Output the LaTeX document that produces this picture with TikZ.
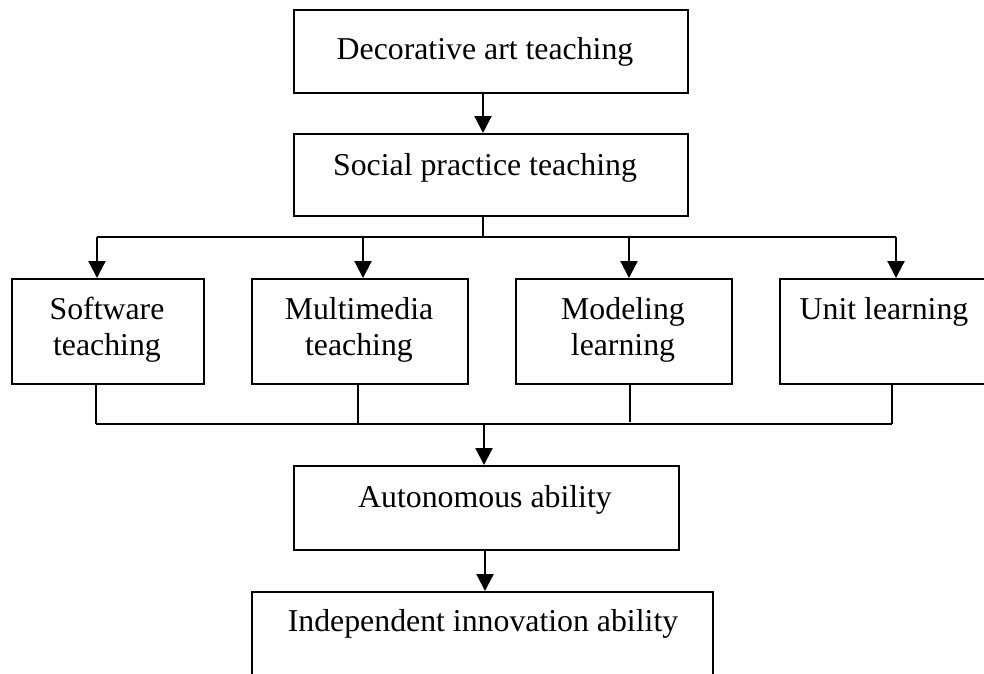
\documentclass[tikz,border=0pt]{standalone}
\usepackage{fontspec}
\setmainfont{Liberation Serif}
\usetikzlibrary{arrows.meta}
\tikzset{
  boxnode/.style={draw=black, line width=1.8pt, rectangle, inner sep=0pt, anchor=north west},
  txt/.style={anchor=base, inner sep=0pt, font=\fontsize{31.8}{36}\selectfont, align=center},
  arr/.style={line width=2.2pt, -{Triangle[length=17pt,width=17pt]}},
  conn/.style={line width=1.6pt},
  thin/.style={line width=1.3pt}
}
\begin{document}
\begin{tikzpicture}[x=1pt,y=-1pt]
\useasboundingbox (0,0) rectangle (984,673);
\clip (0,0) rectangle (984,673);
% boxes
\node[boxnode, minimum width=394pt, minimum height=83pt] (b1) at (293,9) {};
\node[boxnode, minimum width=394pt, minimum height=82pt] (b2) at (293,133) {};
\node[boxnode, minimum width=192pt, minimum height=105pt] (b3) at (11,278) {};
\node[boxnode, minimum width=216pt, minimum height=105pt] (b4) at (251,278) {};
\node[boxnode, minimum width=216pt, minimum height=105pt] (b5) at (515,278) {};
\node[boxnode, minimum width=209pt, minimum height=105pt] (b6) at (779,278) {};
\node[boxnode, minimum width=385pt, minimum height=84pt] (b7) at (293,465) {};
\node[boxnode, minimum width=461pt, minimum height=110pt] (b8) at (251,591) {};
% texts
\node[txt] (t1) at (485,59) {Decorative art teaching};
\node[txt] (t2) at (485,175) {Social practice teaching};
\node[txt] (t3) at (107,319) {Software};
\node[txt] (t3b) at (107,355) {teaching};
\node[txt] (t4) at (359,319) {Multimedia};
\node[txt] (t4b) at (359,355) {teaching};
\node[txt] (t5) at (623,319) {Modeling};
\node[txt] (t5b) at (623,355) {learning};
\node[txt] (t6) at (884,319) {Unit learning};
\node[txt] (t7) at (485,507) {Autonomous ability};
\node[txt] (t8) at (483,631) {Independent innovation ability};
% junction coordinates
\coordinate (s1) at (483,237);
\coordinate (c3) at (97,237);
\coordinate (c4) at (363,237);
\coordinate (c5) at (629,237);
\coordinate (c6) at (896,237);
\coordinate (d3) at (96,424);
\coordinate (d4) at (358,424);
\coordinate (d5) at (630,424);
\coordinate (d6) at (892,424);
\coordinate (s2) at (484,424);
\coordinate (s3) at (485,549);
% connectors
\draw[arr] (s1 |- b1.south) -- (s1 |- b2.north);
\draw[conn] (s1 |- b2.south) -- (s1);
\draw[conn] (c3) -- (c6);
\draw[arr] (c3) -- (c3 |- b3.north);
\draw[arr] (c4) -- (c4 |- b4.north);
\draw[arr] (c5) -- (c5 |- b5.north);
\draw[arr] (c6) -- (c6 |- b6.north);
\draw[thin] (d3 |- b3.south) -- (d3);
\draw[thin] (d4 |- b4.south) -- (d4);
\draw[thin] (d5 |- b5.south) -- ([yshift=2pt]d5);
\draw[thin] (d6 |- b6.south) -- (d6);
\draw[thin] (d3) -- (d6);
\draw[arr] (s2) -- (s2 |- b7.north);
\draw[arr] (s3 |- b7.south) -- (s3 |- b8.north);
\end{tikzpicture}
\end{document}
